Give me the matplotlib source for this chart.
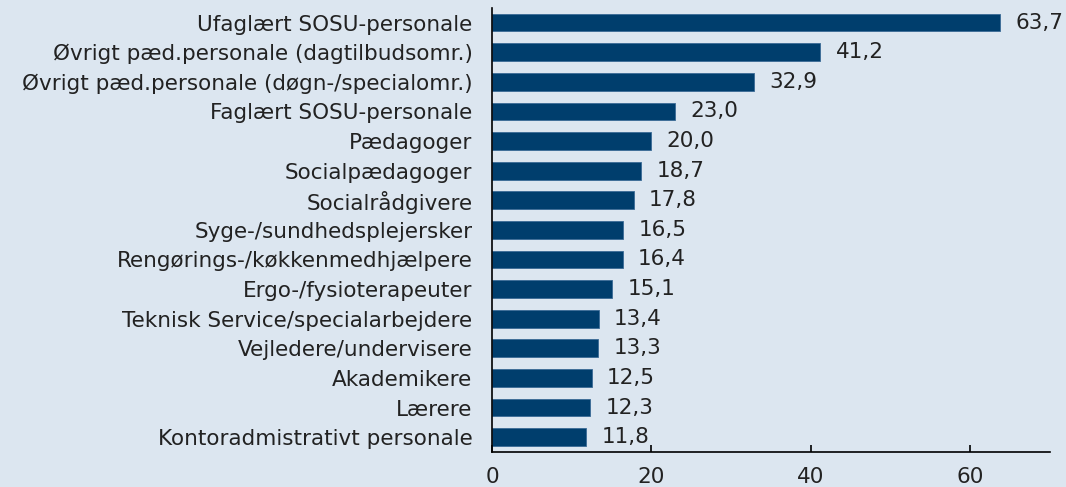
import matplotlib.pyplot as plt

categories = ["Ufaglært SOSU-personale", "Øvrigt pæd.personale (dagtilbudsomr.)",
              "Øvrigt pæd.personale (døgn-/specialomr.)", "Faglært SOSU-personale",
              "Pædagoger", "Socialpædagoger", "Socialrådgivere", "Syge-/sundhedsplejersker",
              "Rengørings-/køkkenmedhjælpere", "Ergo-/fysioterapeuter",
              "Teknisk Service/specialarbejdere", "Vejledere/undervisere", "Akademikere",
              "Lærere", "Kontoradmistrativt personale"]
values = [63.7, 41.2, 32.9, 23.0, 20.0, 18.7, 17.8, 16.5, 16.4, 15.1, 13.4, 13.3, 12.5, 12.3, 11.8]

bg = "#dce6f0"
plt.rcParams['font.family'] = ['DejaVu Sans']
fs = 15.5

fig = plt.figure(figsize=(10.66, 4.87), dpi=100, facecolor=bg)
ax = fig.add_axes([0.4615, 0.072, 0.5235, 0.912], facecolor=bg)

y = list(range(len(categories)))
ax.barh(y, values, height=0.6, color="#003e6d", edgecolor="#3a6a95", linewidth=0.6)
for yi, v in zip(y, values):
    ax.annotate(f"{v:.1f}".replace(".", ","), (v, yi), xytext=(11, 0), textcoords="offset points",
                va="center", ha="left", fontsize=fs, color="#222222")

ax.set_yticks(y)
ax.set_yticklabels(categories, fontsize=fs, color="#222222")
ax.set_ylim(len(categories) - 0.5, -0.5)
ax.set_xlim(0, 70)
ax.set_xticks([0, 20, 40, 60])
ax.tick_params(axis="x", direction="in", length=5, width=1.2, pad=11, labelsize=fs, labelcolor="#222222")
ax.tick_params(axis="y", length=0, pad=14)
for s in ["top", "right"]:
    ax.spines[s].set_visible(False)
for s in ["left", "bottom"]:
    ax.spines[s].set_linewidth(1.2)

fig.savefig("out.png", dpi=100, facecolor=bg)
